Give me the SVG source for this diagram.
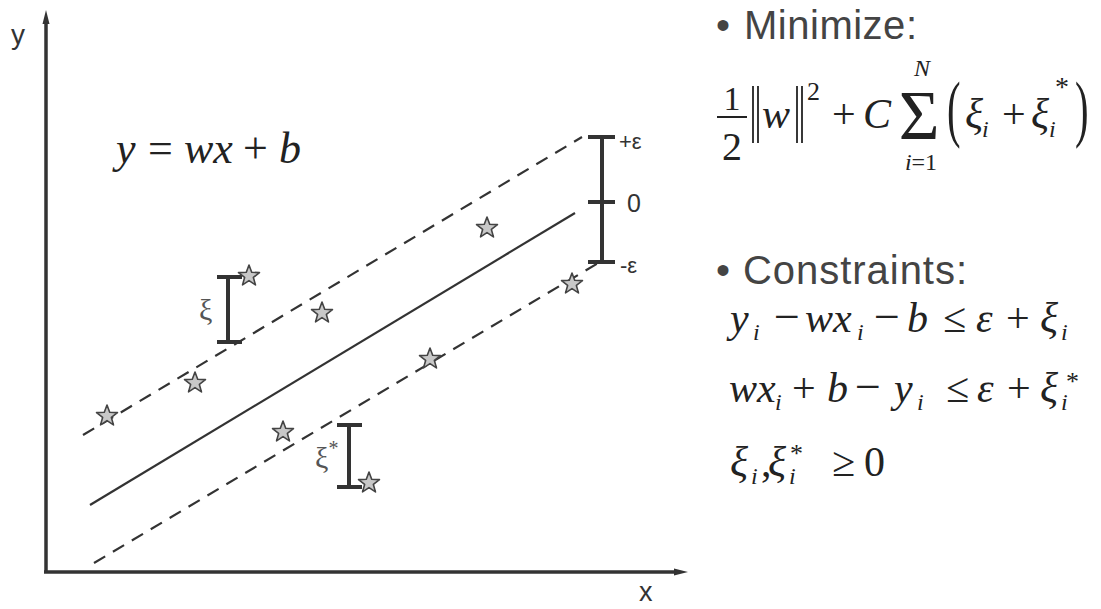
<svg xmlns="http://www.w3.org/2000/svg" width="1101" height="609" viewBox="0 0 1101 609">
<defs>
<style>
.ax{stroke:#333;stroke-width:3.5;fill:none}
.dash{stroke:#333;stroke-width:2.2;fill:none;stroke-dasharray:13 9}
.solid{stroke:#333;stroke-width:2.2;fill:none}
.bar{stroke:#333;stroke-width:4;fill:none}
.norm{stroke:#222;stroke-width:1.8}
.star{fill:#c8c8c8;stroke:#444;stroke-width:1.6;stroke-linejoin:round}
.lab{font-family:"Liberation Sans",Arial,sans-serif;fill:#333}
.greek{font-family:"Liberation Serif","Times New Roman",serif;fill:#555}
.m{font-family:"Liberation Serif","Times New Roman",serif;font-style:italic;fill:#222}
.r{font-family:"Liberation Serif","Times New Roman",serif;font-style:normal;fill:#222}
.bul{font-family:"Liberation Sans",Arial,sans-serif;fill:#444}
</style>
<polygon id="st" class="star" points="0,-11 2.7,-3.72 10.46,-3.4 4.37,1.42 6.47,8.9 0,4.6 -6.47,8.9 -4.37,1.42 -10.46,-3.4 -2.7,-3.72"/>
</defs>
<rect width="1101" height="609" fill="#fff"/>

<g id="axes">
<line class="ax" x1="46" y1="572" x2="46" y2="20"/>
<polygon points="46,10 42.5,24 49.5,24" fill="#333"/>
<line class="ax" x1="44" y1="572" x2="676" y2="572"/>
<polygon points="688,572 674,568.5 674,575.5" fill="#333"/>
<text class="lab" x="11" y="44" font-size="28">y</text>
<text class="lab" x="639" y="601" font-size="27">x</text>
</g>

<g id="connectors">
<line class="dash" x1="83" y1="435" x2="582" y2="137"/>
<line class="solid" x1="90" y1="505" x2="575" y2="213"/>
<line class="dash" x1="94" y1="563" x2="600" y2="262"/>
</g>

<g id="equation-line">
<text class="m" font-size="44" y="163"><tspan x="116">y</tspan><tspan class="r" x="148">=</tspan><tspan x="184">wx</tspan><tspan class="r" x="243">+</tspan><tspan x="279">b</tspan></text>
</g>

<g id="epsilon-scale">
<line class="bar" x1="602" y1="137" x2="602" y2="262"/>
<line class="bar" x1="588" y1="137" x2="615" y2="137"/>
<line class="bar" x1="588" y1="202" x2="615" y2="202"/>
<line class="bar" x1="588" y1="262" x2="615" y2="262"/>
<text class="lab" x="619" y="149" font-size="22">+ε</text>
<text class="lab" x="627" y="212" font-size="25">0</text>
<text class="lab" x="620" y="273" font-size="22">-ε</text>
</g>

<g id="xi-upper">
<line class="bar" x1="228" y1="277" x2="228" y2="342"/>
<line class="bar" x1="217" y1="277" x2="242" y2="277"/>
<line class="bar" x1="217" y1="342" x2="242" y2="342"/>
<text class="greek" x="199" y="320" font-size="30">ξ</text>
</g>

<g id="xi-lower">
<line class="bar" x1="349" y1="425" x2="349" y2="487"/>
<line class="bar" x1="337" y1="425" x2="362" y2="425"/>
<line class="bar" x1="337" y1="487" x2="362" y2="487"/>
<text class="greek" x="315" y="468" font-size="30">ξ<tspan font-size="20" dy="-13">*</tspan></text>
</g>

<g id="points">
<use href="#st" x="107" y="416"/>
<use href="#st" x="195" y="383"/>
<use href="#st" x="249" y="276"/>
<use href="#st" x="322" y="313"/>
<use href="#st" x="283" y="432"/>
<use href="#st" x="430" y="359"/>
<use href="#st" x="487" y="228"/>
<use href="#st" x="369" y="483"/>
<use href="#st" x="572" y="284"/>
</g>

<g id="minimize">
<text class="bul" font-size="40" y="39"><tspan x="716">•</tspan><tspan x="744" textLength="173">Minimize:</tspan></text>
<text class="r" x="732" y="110" font-size="34" text-anchor="middle">1</text>
<line x1="717" y1="117" x2="747" y2="117" stroke="#222" stroke-width="2"/>
<text class="r" x="732" y="160" font-size="40" text-anchor="middle">2</text>
<line class="norm" x1="753" y1="86" x2="753" y2="143"/>
<line class="norm" x1="758" y1="86" x2="758" y2="143"/>
<line class="norm" x1="797" y1="86" x2="797" y2="143"/>
<line class="norm" x1="802" y1="86" x2="802" y2="143"/>
<text class="m" font-size="42" y="128"><tspan x="762">w</tspan><tspan class="r" x="807" y="100" font-size="26">2</tspan><tspan class="r" x="832" y="128">+</tspan><tspan x="863">C</tspan></text>
<text class="m" font-size="24" text-anchor="middle"><tspan x="922" y="76">N</tspan><tspan class="r" x="919" y="139" font-size="70">Σ</tspan><tspan x="921" y="170">i<tspan font-style="normal">=1</tspan></tspan></text>
<text class="r" transform="translate(947,133) scale(0.55,1)" font-size="74">(</text>
<text class="m" font-size="42" y="128"><tspan x="965">ξ</tspan><tspan x="982" y="137" font-size="24">i</tspan><tspan class="r" x="1002" y="128">+</tspan><tspan x="1031">ξ</tspan><tspan x="1049" y="137" font-size="24">i</tspan><tspan class="r" x="1055" y="96" font-size="28">*</tspan></text>
<text class="r" transform="translate(1075,133) scale(0.55,1)" font-size="74">)</text>
</g>

<g id="constraints">
<text class="bul" font-size="40" y="284"><tspan x="716">•</tspan><tspan x="743" textLength="224">Constraints:</tspan></text>

<text class="m" font-size="42" y="332"><tspan x="730">y</tspan><tspan x="753" y="340" font-size="24">i</tspan><tspan class="r" x="774" y="332" font-size="46">−</tspan><tspan x="805">wx</tspan><tspan x="857" y="340" font-size="24">i</tspan><tspan class="r" x="874" y="332" font-size="46">−</tspan><tspan x="907">b</tspan><tspan class="r" x="943">≤</tspan><tspan x="976">ε</tspan><tspan class="r" x="1006">+</tspan><tspan x="1040">ξ</tspan><tspan x="1061" y="340" font-size="24">i</tspan></text>

<text class="m" font-size="42" y="402"><tspan x="729">wx</tspan><tspan x="775" y="410" font-size="24">i</tspan><tspan class="r" x="792" y="402">+</tspan><tspan x="827">b</tspan><tspan class="r" x="855" font-size="46">−</tspan><tspan x="894">y</tspan><tspan x="917" y="410" font-size="24">i</tspan><tspan class="r" x="946" y="402">≤</tspan><tspan x="977">ε</tspan><tspan class="r" x="1007">+</tspan><tspan x="1040">ξ</tspan><tspan x="1061" y="410" font-size="24">i</tspan><tspan class="r" x="1066" y="390" font-size="26">*</tspan></text>

<text class="m" font-size="42" y="476"><tspan x="730">ξ</tspan><tspan x="751" y="484" font-size="24">i</tspan><tspan class="r" x="761" y="476">,</tspan><tspan x="768">ξ</tspan><tspan x="789" y="484" font-size="24">i</tspan><tspan class="r" x="790" y="462" font-size="26">*</tspan><tspan class="r" x="832" y="476">≥</tspan><tspan class="r" x="864">0</tspan></text>
</g>
</svg>
